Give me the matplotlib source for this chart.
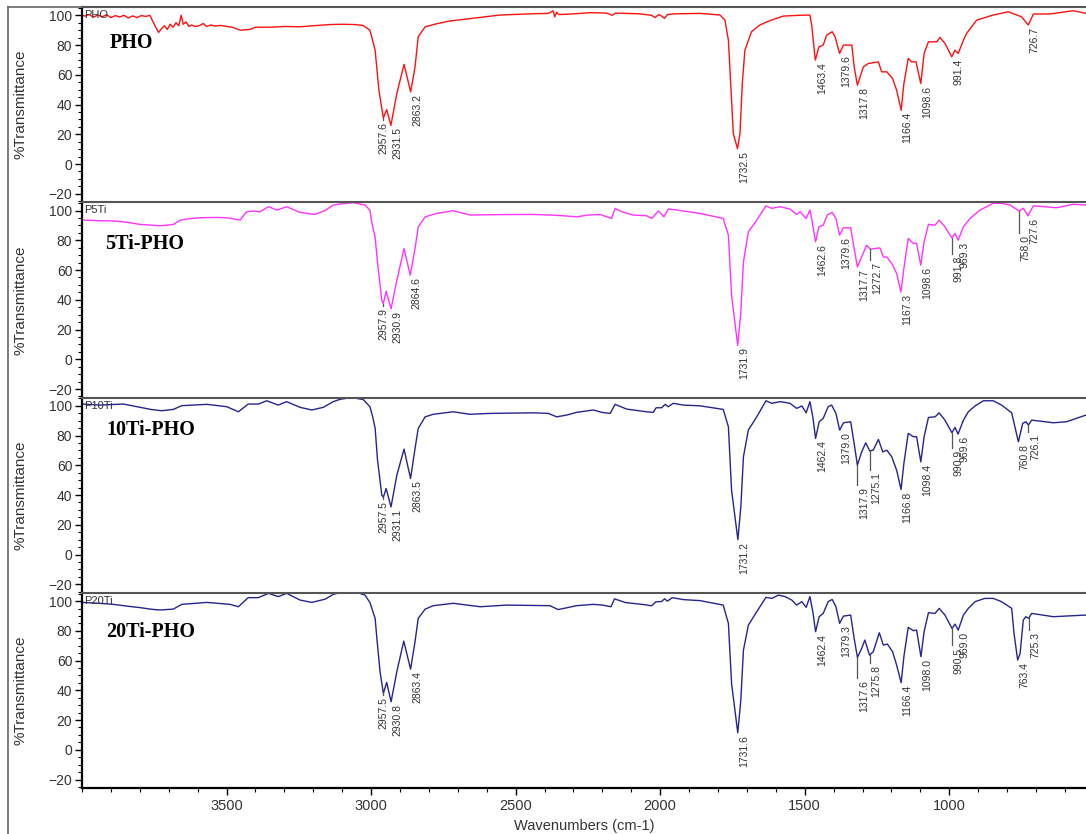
import numpy as np
import matplotlib
matplotlib.use("Agg")
import matplotlib.pyplot as plt
from matplotlib.lines import Line2D
from matplotlib.ticker import MultipleLocator, FixedLocator

# ---------------- data ----------------
pho_wn = [4000, 3990, 3975, 3960, 3945, 3930, 3915, 3900, 3885, 3870,
          3855, 3840, 3825, 3810, 3795, 3780, 3765, 3755, 3745, 3735,
          3725, 3715, 3705, 3695, 3685, 3675, 3665, 3657, 3650, 3640,
          3630, 3620, 3610, 3595, 3580, 3570, 3555, 3540, 3520, 3500,
          3480, 3453, 3420, 3400, 3350, 3300, 3246, 3200, 3142, 3100,
          3056, 3028, 3004, 2986, 2973, 2957.6, 2946, 2931.5, 2911, 2886,
          2863.2, 2848, 2837, 2813, 2770, 2727, 2650, 2554, 2450, 2388,
          2370, 2365, 2358, 2350, 2300, 2240, 2185, 2166, 2155, 2070,
          2030, 2018, 2005, 1995, 1985, 1975, 1950, 1900, 1862, 1793,
          1776, 1764, 1756, 1747, 1732.5, 1724, 1716, 1707, 1684, 1655,
          1620, 1574, 1520, 1482, 1476, 1463.4, 1451, 1436, 1424, 1405,
          1395, 1379.6, 1366, 1337, 1329, 1317.8, 1297, 1280, 1245, 1234,
          1216, 1196, 1182, 1166.4, 1157, 1142, 1130, 1115, 1098.6, 1087,
          1072, 1043, 1032, 1015, 991.4, 980, 969, 951, 940, 905,
          848, 796, 750, 726.7, 709, 652, 571, 527]
pho_t = [100, 99.5, 100.5, 98.8, 100.2, 99, 100.4, 98.5, 99.8, 98.9,
         100, 98.2, 99.6, 98.5, 99.8, 99.3, 99.9, 96, 92, 88.5,
         91, 93, 90.5, 94, 92, 95, 93, 100, 94, 95.5,
         92.5, 93.5, 92.5, 93, 94.5, 92.5, 93.5, 92.8, 93.2, 92.5,
         92, 90, 90.5, 92, 92, 92.5, 92.3, 93, 93.8, 94,
         93.8, 93.2, 90, 76.6, 49.6, 31, 36.6, 26, 47.4, 67,
         48.5, 65.3, 85.6, 92.3, 94.5, 96.2, 98, 100.2, 101, 101.3,
         103, 99, 102, 100.5, 101, 101.8, 101.5, 100, 101.5, 101,
         100, 98.5, 100.5, 99.5, 98, 100.5, 101, 101.2, 101.3, 100.2,
         96.8, 83.3, 54.1, 20.4, 10.3, 20.6, 54, 76.6, 89, 93.5,
         96.5, 99.5, 100, 100.2, 93.5, 69.9, 78.8, 80, 86.7, 89,
         85.6, 74.4, 80, 80, 65.4, 53, 65.4, 67.6, 68.7, 62,
         62, 57.5, 49.6, 36.1, 54.1, 71, 68.7, 68.7, 54.1, 74.4,
         82.2, 82.2, 85.2, 81.1, 72.1, 76.6, 74.4, 83.3, 87.9, 96.8,
         100.2, 102.4, 99, 93.5, 100.9, 100.9, 103.1, 101.3]

ti5_wn = [4000, 3940, 3880, 3840, 3799, 3760, 3730, 3700, 3684, 3660,
          3640, 3592, 3534, 3490, 3465, 3453, 3440, 3430, 3407, 3384,
          3355, 3326, 3292, 3246, 3194, 3160, 3131, 3100, 3061, 3021,
          3004, 2998, 2986, 2978, 2963, 2957.9, 2948, 2930.9, 2911, 2886,
          2864.6, 2848, 2837, 2813, 2773, 2716, 2658, 2550, 2439, 2380,
          2335, 2289, 2250, 2208, 2168, 2156, 2130, 2093, 2047, 2029,
          2006, 1987, 1972, 1945, 1920, 1862, 1782, 1764, 1753, 1731.9,
          1721, 1712, 1695, 1666, 1634, 1614, 1585, 1551, 1528, 1516,
          1495, 1482, 1474, 1462.6, 1451, 1436, 1422, 1405, 1392, 1379.6,
          1366, 1341, 1329, 1317.7, 1303, 1286, 1272.7, 1257, 1240, 1228,
          1216, 1199, 1182, 1167.3, 1157, 1142, 1124, 1113, 1098.6, 1087,
          1072, 1049, 1035, 1015, 991.8, 980, 969.3, 951, 928, 894,
          848, 819, 790, 758.0, 744, 727.6, 709, 629, 571, 527]
ti5_t = [93.6, 93.2, 92.9, 92, 90.7, 90.2, 89.8, 90.3, 90.7, 93.5,
         94.3, 95.2, 95.4, 95, 94, 93.6, 97, 99.2, 99.7, 99.2,
         102.6, 100.3, 102.6, 98.8, 97.4, 100, 103.7, 104.6, 105.3, 103.7,
         100.3, 92.4, 82, 65.5, 39.6, 37.5, 45.7, 34, 53, 74.5,
         56.5, 74.5, 89, 95.8, 98.1, 99.9, 97, 97.3, 97.4, 97,
         96.5, 95.8, 97, 97.4, 94.7, 101.5, 99, 97, 96.5, 94.7,
         99.7, 95.8, 101, 100.5, 99.7, 98.1, 94.7, 83.5, 43, 9.3,
         31.8, 65.5, 85.7, 93.6, 103.2, 101.5, 102.6, 101, 97.4, 99.2,
         94.7, 100.3, 92.4, 79, 89, 90.2, 97, 98.8, 94.7, 83.5,
         88.4, 88.4, 74.5, 62.1, 68.8, 76.7, 74, 74.5, 74.9, 68.8,
         68.8, 64.4, 57.7, 45.2, 61, 81.3, 77.9, 77.9, 63.3, 79,
         90.7, 90.2, 93.6, 89.1, 81.7, 84.6, 80.1, 89.1, 94.7, 100.3,
         104.9, 104.9, 103.7, 99.7, 101.5, 96.5, 103.2, 101.9, 104.2, 103.7]

ti10_wn = [4000, 3938, 3857, 3799, 3760, 3724, 3684, 3655, 3568, 3499,
           3459, 3425, 3390, 3361, 3321, 3292, 3246, 3205, 3165, 3131,
           3107, 3067, 3027, 3004, 2995, 2986, 2978, 2963, 2957.5, 2948,
           2931.1, 2911, 2886, 2863.5, 2848, 2837, 2813, 2785, 2716, 2658,
           2589, 2439, 2387, 2358, 2323, 2289, 2231, 2202, 2173, 2156,
           2116, 2047, 2024, 2014, 1995, 1983, 1972, 1955, 1920, 1862,
           1782, 1764, 1753, 1731.2, 1721, 1712, 1695, 1666, 1634, 1614,
           1585, 1551, 1528, 1510, 1495, 1482, 1472, 1462.4, 1450, 1436,
           1419, 1407, 1392, 1379.0, 1366, 1341, 1329, 1317.9, 1303, 1289,
           1275.1, 1263, 1245, 1230, 1216, 1199, 1182, 1166.8, 1157, 1142,
           1124, 1113, 1098.4, 1087, 1072, 1049, 1035, 1015, 990.9, 980,
           969.6, 951, 934, 911, 882, 848, 819, 784, 773, 760.8,
           746, 735, 726.1, 715, 640, 594, 527]
ti10_t = [101.2, 100.5, 101.2, 99, 97.5, 96.7, 97.6, 100.1, 101, 99.4,
          96, 101.2, 101.2, 103.4, 100.5, 102.8, 99, 97.2, 99, 102.8,
          104.4, 105.6, 104.2, 99.4, 93, 85, 64, 40, 38.5, 44.4,
          32, 53.3, 70.9, 51.1, 71.3, 84.8, 92.6, 94.3, 96, 94.3,
          94.9, 95.3, 94.9, 92.6, 93.8, 95.6, 97.2, 95.6, 94.9, 101,
          97.8, 96, 95.6, 98.7, 98.7, 101, 99.4, 101.7, 100.5, 100,
          97.6, 85.9, 43.2, 10, 32, 65.7, 83.7, 92.6, 103.4, 101.7,
          102.8, 101.7, 98.3, 99.9, 95.3, 102.8, 92.6, 78.1, 89.3, 91.6,
          99.4, 100.5, 94.9, 83.7, 88.6, 89.3, 74.7, 60.1, 69, 75.1,
          69.7, 70.2, 77.4, 69, 70.2, 65.7, 56.7, 43.7, 61.2, 81.5,
          79.2, 79.2, 62.3, 79.2, 92.2, 92.6, 95.3, 90.4, 81.9, 85.5,
          81, 90.4, 96, 99.9, 103.4, 103.4, 100.5, 95.3, 85.9, 75.8,
          88.2, 89.3, 87.1, 90.4, 88.6, 89.3, 93.8]

ti20_wn = [4000, 3940, 3892, 3840, 3799, 3760, 3730, 3684, 3655, 3568,
           3488, 3459, 3425, 3390, 3355, 3321, 3292, 3246, 3205, 3159,
           3131, 3096, 3056, 3021, 3004, 2986, 2980, 2969, 2957.5, 2946,
           2930.8, 2911, 2887, 2863.4, 2848, 2837, 2813, 2785, 2716, 2623,
           2531, 2381, 2353, 2323, 2290, 2231, 2200, 2170, 2158, 2120,
           2050, 2030, 2015, 1995, 1985, 1975, 1958, 1920, 1862, 1782,
           1764, 1753, 1731.6, 1721, 1712, 1695, 1666, 1634, 1614, 1591,
           1568, 1545, 1528, 1510, 1495, 1482, 1472, 1462.4, 1450, 1436,
           1419, 1405, 1392, 1379.3, 1366, 1341, 1329, 1317.6, 1303, 1292,
           1275.8, 1263, 1242, 1228, 1214, 1196, 1182, 1166.4, 1157, 1142,
           1124, 1113, 1098.0, 1087, 1072, 1049, 1035, 1015, 990.5, 980,
           969.0, 951, 934, 911, 877, 848, 819, 784, 776, 763.4,
           755, 744, 735, 725.3, 715, 640, 527]
ti20_t = [99.1, 98.5, 97.8, 96.5, 95.6, 94.5, 94, 94.6, 97.8, 99.1,
          97.8, 96.2, 102.3, 102.3, 105.2, 103, 105.2, 100.7, 99.1, 101.3,
          104.5, 106.3, 106.3, 104, 99, 88.4, 74.9, 52.5, 37.9, 45.3,
          32.3, 52.5, 73.1, 54.2, 72.7, 88.4, 94.6, 96.9, 98.5, 96.2,
          97.3, 96.9, 94.3, 95.5, 96.9, 97.8, 97.3, 96.2, 101.5, 99,
          97.5, 96.8, 99.5, 99.7, 101.5, 100, 102.3, 101, 100.3, 97.3,
          85, 44.6, 11.4, 33.4, 67, 83.8, 92.9, 102.5, 101.8, 104,
          103, 100.7, 97.3, 99.6, 95.8, 103, 92.9, 79.4, 89.5, 91.7,
          99.6, 101.1, 96.2, 85, 89.9, 90.6, 74.9, 62.1, 68.2, 73.8,
          63.7, 65.9, 78.7, 70.4, 71.1, 65.9, 56.9, 45.1, 62.6, 82.3,
          80.1, 80.5, 62.6, 79.4, 92.2, 91.7, 95.1, 90.6, 81.6, 84.5,
          80.5, 90.6, 95.1, 99.6, 101.8, 101.8, 99.6, 95.1, 78.3, 60.3,
          64.8, 87.2, 89.5, 88.4, 91.7, 89.5, 90.6]

pho_peaks = ["2957.6", "2931.5", "2863.2", "1732.5", "1463.4", "1379.6", "1317.8",
             "1166.4", "1098.6", "991.4", "726.7"]
ti5_peaks = ["2957.9", "2930.9", "2864.6", "1731.9", "1462.6", "1379.6", "1317.7",
             "1272.7", "1167.3", "1098.6", "991.8", "969.3", "758.0", "727.6"]
ti10_peaks = ["2957.5", "2931.1", "2863.5", "1731.2", "1462.4", "1379.0", "1317.9",
              "1275.1", "1166.8", "1098.4", "990.9", "969.6", "760.8", "726.1"]
ti20_peaks = ["2957.5", "2930.8", "2863.4", "1731.6", "1462.4", "1379.3", "1317.6",
              "1275.8", "1166.4", "1098.0", "990.5", "969.0", "763.4", "725.3"]

sample_ids = ["PHO", "P5Ti", "P10Ti", "P20Ti"]
sample_names = ["PHO", "5Ti-PHO", "10Ti-PHO", "20Ti-PHO"]
x_ticks = [3500, 3000, 2500, 2000, 1500, 1000]
y_ticks = [-20, 0, 20, 40, 60, 80, 100]

# ---------------- styling / layout ----------------
W, H = 1086, 834
plt.rcParams['font.family'] = ['Liberation Sans', 'DejaVu Sans']
fig = plt.figure(figsize=(W / 100, H / 100), dpi=100)

colors = ['#ff1010', '#ff33ff', '#25258f', '#25258f']
# label layout: (leader length px, horizontal text shift px)
label_layout = [
    {"2957.6": (2, -5)},
    {"2957.9": (2, -5), "1272.7": (11, 1.5), "991.8": (16, 1.5), "758.0": (22, 1.5)},
    {"2957.5": (2, -5), "1317.9": (20, 1.5), "1275.1": (19, 1.5), "990.9": (15, 1.5),
     "726.1": (7, 1.5)},
    {"2957.5": (2, -5), "1317.6": (21, 1.5), "1275.8": (8, 1.5), "990.5": (17, 1.5),
     "725.3": (12, 1.5)},
]
name_pos = [(0.028, 0.79), (0.023, 0.759), (0.024, 0.81), (0.024, 0.775)]

left_px, right_px, top_px, panel_h = 82, 1086, 7, 195.25
ylo, yhi = -25.7, 105.6
ppu = panel_h / (yhi - ylo)  # pixels per % unit

series = [(pho_wn, pho_t, pho_peaks), (ti5_wn, ti5_t, ti5_peaks),
          (ti10_wn, ti10_t, ti10_peaks), (ti20_wn, ti20_t, ti20_peaks)]

for k, (wn, tr, peaks) in enumerate(series):
    top = top_px + k * panel_h
    ax = fig.add_axes([left_px / W, 1 - (top + panel_h) / H,
                       (right_px - left_px) / W, panel_h / H])
    ax.plot(wn, tr, color=colors[k], lw=1.0)
    ax.set_xlim(4000, 527)
    ax.set_ylim(ylo, yhi)

    # peak labels
    wn_arr = np.array(wn)[::-1]
    tr_arr = np.array(tr)[::-1]
    for lab in peaks:
        p = float(lab)
        t = np.interp(p, wn_arr, tr_arr)
        L, dx = label_layout[k].get(lab, (0, 1.5))
        if L:
            ax.plot([p, p], [t, t - L / ppu], color='#555555', lw=0.9)
        ax.annotate(lab, xy=(p, t), xytext=(dx * 0.72, -(L + 2) * 0.72),
                    textcoords='offset points', rotation=90,
                    ha='left', va='top', fontsize=7.5, color='#333333')

    ax.text(0.002, 1 - 3 / panel_h, sample_ids[k], transform=ax.transAxes,
            ha='left', va='top', fontsize=8, color='#333333')
    ax.text(name_pos[k][0], name_pos[k][1], sample_names[k], transform=ax.transAxes,
            ha='left', va='baseline', fontsize=14.5, fontweight='bold',
            family='Liberation Serif', color='black')

    ax.yaxis.set_major_locator(FixedLocator(y_ticks))
    ax.yaxis.set_minor_locator(MultipleLocator(5))
    ax.tick_params(axis='y', which='major', direction='out', length=5, width=1,
                   labelsize=10, labelcolor='#333333', pad=2)
    ax.tick_params(axis='y', which='minor', direction='out', length=3, width=0.8)
    ax.set_ylabel('%Transmittance', fontsize=11, color='#333333')
    ax.yaxis.set_label_coords(-0.054, 0.5)

    ax.spines['right'].set_visible(False)
    ax.spines['top'].set_color('#555555')
    ax.spines['top'].set_linewidth(1.5)
    ax.spines['left'].set_color('black')
    ax.spines['left'].set_linewidth(1.6)
    if k < 3:
        ax.spines['bottom'].set_visible(False)
        ax.tick_params(axis='x', which='both', bottom=False, labelbottom=False)
    else:
        ax.spines['bottom'].set_color('black')
        ax.spines['bottom'].set_linewidth(1.6)
        ax.xaxis.set_major_locator(FixedLocator(x_ticks))
        ax.xaxis.set_minor_locator(MultipleLocator(100))
        ax.tick_params(axis='x', which='major', direction='out', length=5, width=1,
                       labelsize=10.5, labelcolor='#333333', pad=3)
        ax.tick_params(axis='x', which='minor', direction='out', length=3, width=0.8)
        ax.set_xlabel('Wavenumbers (cm-1)', fontsize=10.5, color='#333333', labelpad=4)

# outer frame lines
fig.add_artist(Line2D([8 / W, 8 / W], [0, 1 - 7 / H], transform=fig.transFigure,
                      color='#666666', lw=1.2))
fig.add_artist(Line2D([8 / W, left_px / W], [1 - 7 / H, 1 - 7 / H],
                      transform=fig.transFigure, color='#666666', lw=1.2))

fig.savefig('out.png', dpi=100)
